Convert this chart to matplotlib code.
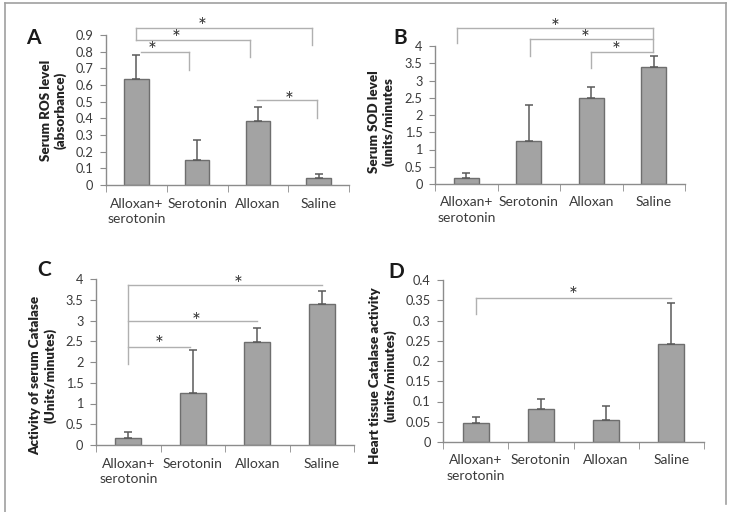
import numpy as np
import matplotlib
matplotlib.use('Agg')
import matplotlib.pyplot as plt
from matplotlib.lines import Line2D
from matplotlib.ticker import FuncFormatter, MultipleLocator

plt.rcParams['font.family'] = ['Lato', 'DejaVu Sans']

groups = ['Alloxan+\nserotonin', 'Serotonin', 'Alloxan', 'Saline']

# bar heights and upper error-bar tips
ros = [0.635, 0.15, 0.385, 0.045]
ros_top = [0.78, 0.27, 0.47, 0.065]
sod = [0.17, 1.25, 2.48, 3.40]
sod_top = [0.32, 2.28, 2.82, 3.72]
cat_serum = [0.17, 1.25, 2.47, 3.40]
cat_serum_top = [0.32, 2.28, 2.83, 3.72]
cat_heart = [0.048, 0.082, 0.055, 0.243]
cat_heart_top = [0.062, 0.106, 0.088, 0.342]

# significance brackets: (x_left, x_right, y, left leg end, right leg end)
brk_a = [(0.07, 0.87, 0.80, None, 0.69), (0.0, 1.87, 0.87, None, 0.77),
         (0.0, 2.89, 0.94, 0.87, 0.84), (1.98, 2.97, 0.51, None, 0.40)]
star_a = [(0.26, 0.84), (0.66, 0.91), (1.08, 0.98), (2.51, 0.54)]
brk_b = [(-0.15, 2.98, 4.51, 4.08, 3.82), (1.02, 2.98, 4.19, 3.70, None),
         (2.0, 2.98, 3.82, 3.35, None)]
star_b = [(1.42, 4.68), (1.9, 4.36), (2.4, 4.02)]
brk_c = [(0.0, 3.0, 3.85, 1.95, None), (0.0, 2.0, 2.99, None, None),
         (0.0, 0.95, 2.36, None, None)]
star_c = [(1.7, 4.0), (1.05, 3.1), (0.48, 2.55)]
brk_d = [(0.0, 3.0, 0.355, 0.316, None)]
star_d = [(1.5, 0.375)]

W, H = 731, 512
fig = plt.figure(figsize=(W / 100, H / 100), dpi=100)

# outer grey frame
for xs, ys in [([5, 5], [3, 512]), ([5, 726], [3, 3]), ([726, 726], [3, 504])]:
    fig.add_artist(Line2D([x / W for x in xs], [1 - y / H for y in ys],
                          color='#a0a0a0', lw=1.2, transform=fig.transFigure))

txt = '#3a3a3a'
spine = '#8c8c8c'


def fmt(v, pos):
    return '0' if abs(v) < 1e-9 else ('%g' % round(v, 3))


def panel(rect, vals, tops, ymax, step, ylabel, labx, laby, brks, stars):
    ax = fig.add_axes([rect[0] / W, 1 - rect[3] / H, (rect[1] - rect[0]) / W, (rect[3] - rect[2]) / H])
    x = np.arange(len(vals))
    err = np.array(tops) - np.array(vals)
    ax.bar(x, vals, width=0.4, color='#a3a3a3', edgecolor='#6e6e6e', linewidth=1.0, zorder=2)
    ax.errorbar(x, vals, yerr=[np.zeros(len(vals)), err], fmt='none', ecolor='#5a5a5a',
                elinewidth=1.1, capsize=3, capthick=1.1, zorder=3)
    ax.set_xlim(-0.5, 3.5)
    ax.set_ylim(0, ymax)
    ax.yaxis.set_major_locator(MultipleLocator(step))
    ax.yaxis.set_major_formatter(FuncFormatter(fmt))
    ax.set_xticks(x)
    ax.set_xticklabels(groups, color=txt, fontsize=10, linespacing=1.35)
    ax.set_xticks(np.arange(-0.5, 4, 1), minor=True)
    ax.tick_params(axis='x', which='major', length=0, pad=9)
    ax.tick_params(axis='x', which='minor', length=5, color=spine, direction='out')
    ax.tick_params(axis='y', length=4, color=spine, labelcolor=txt, labelsize=9.2, pad=5)
    for s in ['top', 'right']:
        ax.spines[s].set_visible(False)
    for s in ['left', 'bottom']:
        ax.spines[s].set_color(spine)
        ax.spines[s].set_linewidth(1.0)
    ax.set_ylabel(ylabel, fontsize=9.6, fontweight='heavy', color='#222222', linespacing=1.25)
    ax.yaxis.set_label_coords(labx, laby)
    for x0, x1, y, ll, rl in brks:
        ax.plot([x0, x1], [y, y], color='#b0b0b0', lw=1.0, clip_on=False, zorder=1)
        if ll is not None:
            ax.plot([x0, x0], [y, ll], color='#b0b0b0', lw=1.0, clip_on=False, zorder=1)
        if rl is not None:
            ax.plot([x1, x1], [y, rl], color='#b0b0b0', lw=1.0, clip_on=False, zorder=1)
    for sx, sy in stars:
        ax.annotate('*', (sx, sy), xytext=(0, -4), textcoords='offset points',
                    ha='center', va='center', fontsize=15, color='#333333',
                    annotation_clip=False)
    return ax


panel((106, 349, 35, 185), ros, ros_top, 0.9, 0.1, 'Serum ROS level\n(absorbance)',
      -0.16, 0.5, brk_a, star_a)
panel((435, 685, 46, 184), sod, sod_top, 4, 0.5, 'Serum SOD level\n(units/minutes',
      -0.16, 0.45, brk_b, star_b)
panel((96, 354, 279, 445), cat_serum, cat_serum_top, 4, 0.5,
      'Activity of serum Catalase\n(Units/minutes)', -0.152, 0.42, brk_c, star_c)
panel((443, 704, 280, 442), cat_heart, cat_heart_top, 0.4, 0.05,
      'Heart tissue Catalase activity\n(units/minutes)', -0.178, 0.41, brk_d, star_d)

for lab, px, py in [('A', 33, 38), ('B', 400, 38), ('C', 44, 270), ('D', 396, 272)]:
    fig.text(px / W, 1 - py / H, lab, ha='center', va='center', fontsize=15,
             fontweight='bold', color='#1a1a1a')

fig.savefig('out.png', dpi=100)
